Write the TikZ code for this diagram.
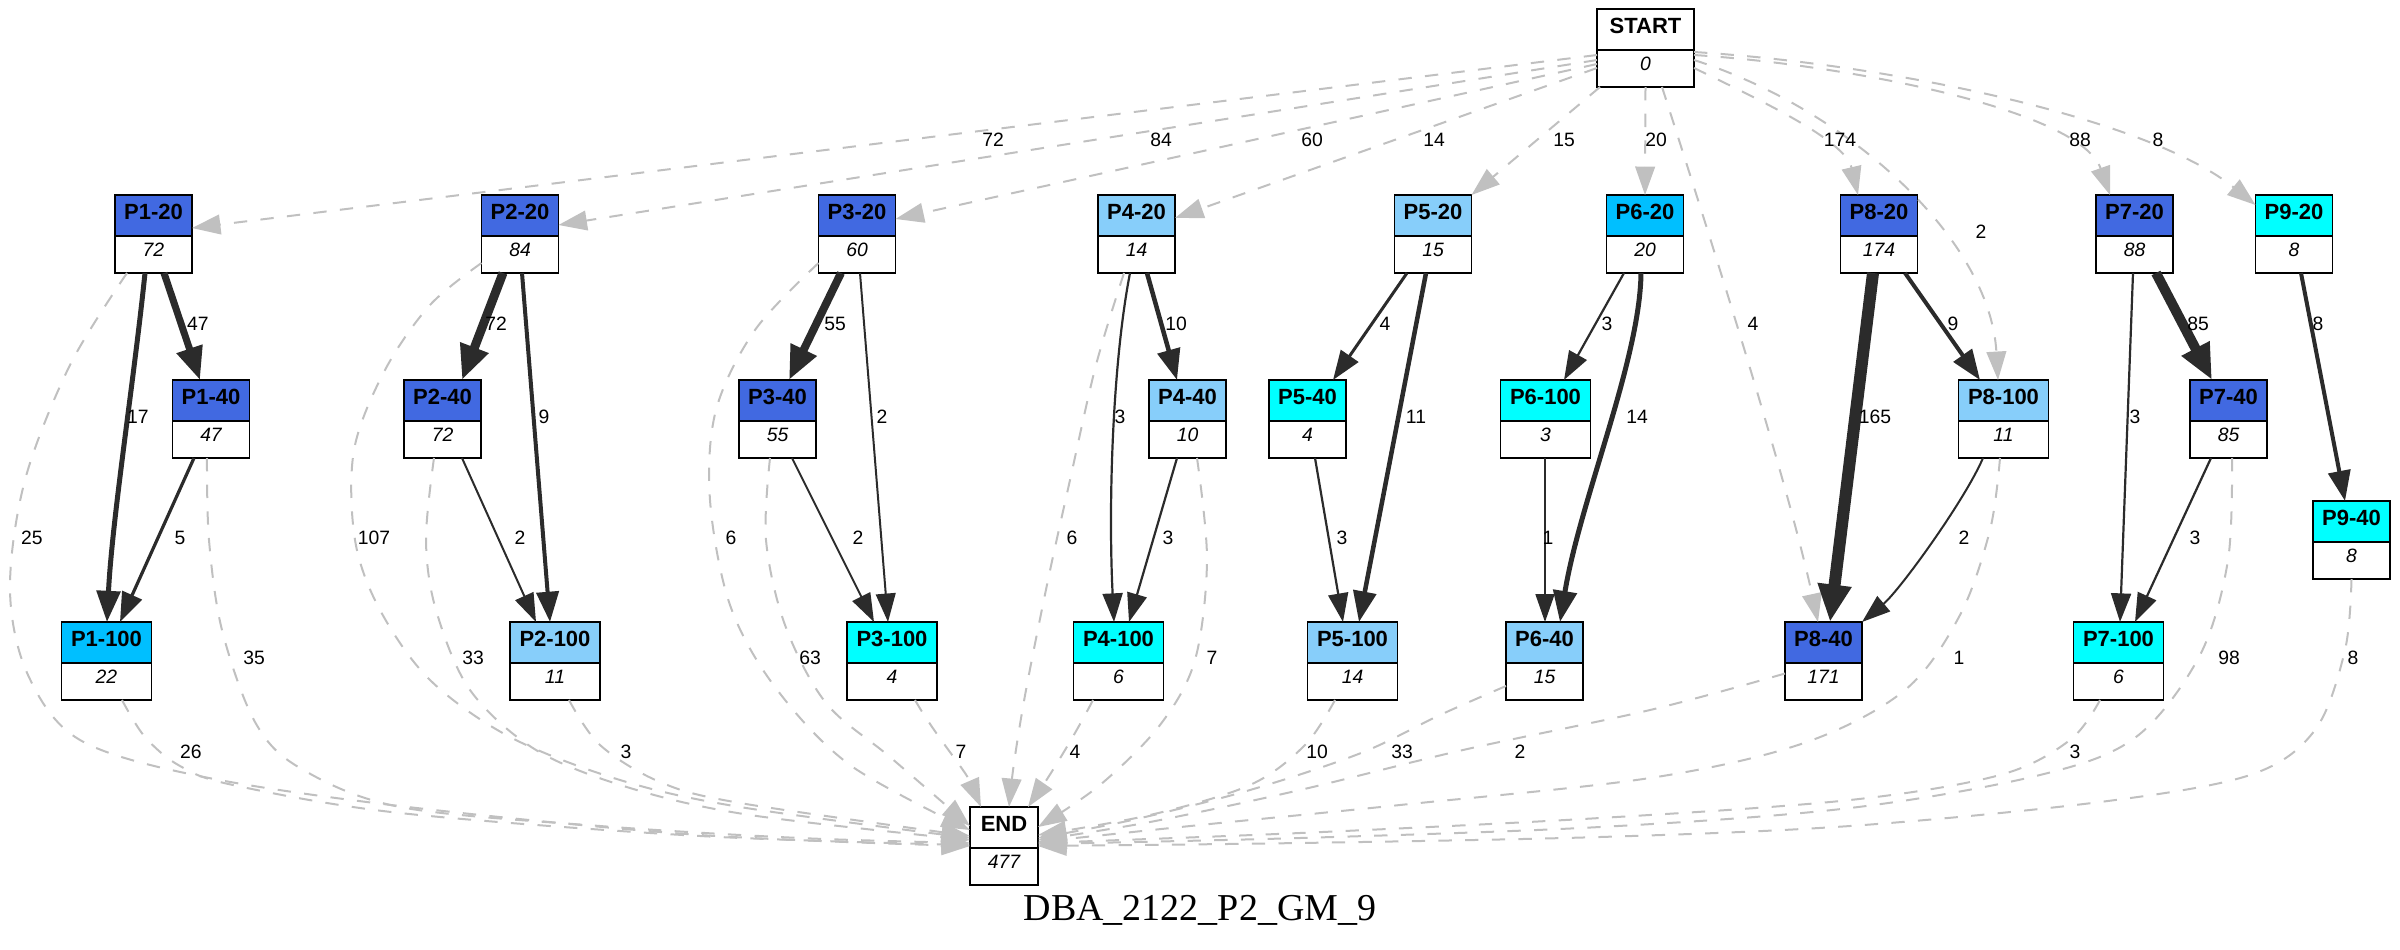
\documentclass[tikz,border=0pt]{standalone}
\usepackage{fontspec}
\setmainfont{Liberation Sans}
\newfontfamily\titlefont{Liberation Serif}
\usetikzlibrary{arrows.meta,calc}
\definecolor{rb}{HTML}{4169E1}
\definecolor{lsb}{HTML}{87CEFA}
\definecolor{dsb}{HTML}{00BFFF}
\definecolor{cy}{HTML}{00FFFF}
\definecolor{edgec}{HTML}{2B2B2B}
\definecolor{grayc}{HTML}{C0C0C0}
\tikzset{
  hdr/.style={font=\bfseries\fontsize{16.5}{16.5}\selectfont, inner sep=0pt},
  val/.style={font=\itshape\fontsize{14.5}{14.5}\selectfont, inner sep=0pt},
  gbox/.style={rectangle, inner sep=0pt, outer sep=0pt},
  elab/.style={font=\fontsize{14.5}{14.5}\selectfont, inner sep=0pt},
  sol/.style={draw=edgec, line width=#1, -{Triangle[length=20pt 0.9, width=13pt 1.2]}},
  dsh/.style={draw=grayc, line width=1.5pt, dash pattern=on 10pt off 10pt, -{Triangle[length=20pt 0.9, width=13pt 1.2]}},
}
% name, cx, top, width, fill, header, value
\newcommand\gn[7]{%
  \path[draw=black, fill=#5, line width=1.3pt] ({#2-#4/2},#3) rectangle ({#2+#4/2},{#3+41});
  \path[draw=black, fill=white, line width=1.3pt] ({#2-#4/2},{#3+41}) rectangle ({#2+#4/2},{#3+78});
  \node[hdr] (#1h) at (#2,{#3+16.5}) {#6};
  \node[val] (#1v) at (#2,{#3+55}) {#7};
  \node[gbox, minimum width={#4*0.75pt}, minimum height=58.5pt] (#1) at (#2,{#3+39}) {};
}
\begin{document}
\begin{tikzpicture}[x=0.75pt, y=-0.75pt]
\useasboundingbox (0,0) rectangle (2400,950);

\gn{START}{1645.5}{9}{97}{white}{START}{0}
\gn{p1a}{153.5}{195}{77}{rb}{P1-20}{72}
\gn{p2a}{520}{195}{77}{rb}{P2-20}{84}
\gn{p3a}{857}{195}{77}{rb}{P3-20}{60}
\gn{p4a}{1136.5}{195}{77}{lsb}{P4-20}{14}
\gn{p5a}{1433}{195}{77}{lsb}{P5-20}{15}
\gn{p6a}{1645}{195}{77}{dsb}{P6-20}{20}
\gn{p8a}{1879}{195}{77}{rb}{P8-20}{174}
\gn{p7a}{2134.5}{195}{77}{rb}{P7-20}{88}
\gn{p9a}{2294}{195}{77}{cy}{P9-20}{8}
\gn{p1b}{211}{380}{77}{rb}{P1-40}{47}
\gn{p2b}{442.5}{380}{77}{rb}{P2-40}{72}
\gn{p3b}{777.5}{380}{77}{rb}{P3-40}{55}
\gn{p4b}{1187.5}{380}{77}{lsb}{P4-40}{10}
\gn{p5b}{1307.5}{380}{77}{cy}{P5-40}{4}
\gn{p6c}{1545.5}{380}{90}{cy}{P6-100}{3}
\gn{p8c}{2003.5}{380}{90}{lsb}{P8-100}{11}
\gn{p7b}{2228.5}{380}{77}{rb}{P7-40}{85}
\gn{p9b}{2351.5}{501}{77}{cy}{P9-40}{8}
\gn{p1c}{106.5}{622}{90}{dsb}{P1-100}{22}
\gn{p2c}{555}{622}{90}{lsb}{P2-100}{11}
\gn{p3c}{892}{622}{90}{cy}{P3-100}{4}
\gn{p4c}{1118.5}{622}{90}{cy}{P4-100}{6}
\gn{p5c}{1352.5}{622}{90}{lsb}{P5-100}{14}
\gn{p6b}{1544.5}{622}{77}{lsb}{P6-40}{15}
\gn{p8b}{1823.5}{622}{77}{rb}{P8-40}{171}
\gn{p7c}{2118.5}{622}{90}{cy}{P7-100}{6}
\gn{END}{1004}{807}{68}{white}{END}{477}

% START edges
\draw[dsh] ($(START.west)+(0,7)$) -- ($(p1a.east)+(0,-6)$);
\draw[dsh] ($(START.west)+(0,12)$) -- ($(p2a.east)+(0,-9)$);
\draw[dsh] ($(START.west)+(0,16)$) -- ($(p3a.east)+(0,-15)$);
\draw[dsh] ($(START.west)+(0,20)$) -- ($(p4a.east)+(0,-16)$);
\draw[dsh] ($(START.south west)+(3,0)$) -- (p5a.north east);
\draw[dsh] (START.south) -- (p6a.north);
\draw[dsh] ($(START.south)+(16.5,0)$) .. controls (1695,190) and (1785,470) .. ($(p8b.north)+(-5.5,0)$);
\draw[dsh] ($(START.east)+(0,20)$) .. controls (1760,100) and (1845,140) .. ($(p8a.north)+(-21,0)$);
\draw[dsh] ($(START.east)+(0,12)$) .. controls (1850,110) and (1990,240) .. ($(p8c.north)+(-5.5,0)$);
\draw[dsh] ($(START.east)+(0,7)$) .. controls (1850,65) and (2080,110) .. ($(p7a.north)+(-24.5,0)$);
\draw[dsh] ($(START.east)+(0,4)$) .. controls (1900,65) and (2150,120) .. ($(p9a.north west)+(0,10)$);

% solid edges
\draw[sol=5.25pt] ($(p1a.south)+(10.5,0)$) -- ($(p1b.north)+(-11,0)$);
\draw[sol=3.75pt] ($(p1a.south)+(-8.5,0)$) .. controls (134,380) and (112,520) .. ($(p1c.north)+(0.5,0)$);
\draw[sol=2.4pt] ($(p1b.south)+(-17,0)$) -- ($(p1c.north)+(13.5,0)$);
\draw[sol=6.75pt] ($(p2a.south)+(-17,0)$) -- ($(p2b.north)+(19.5,0)$);
\draw[sol=3pt] ($(p2a.south)+(2,0)$) -- ($(p2c.north)+(-5,0)$);
\draw[sol=1.5pt] ($(p2b.south)+(19.5,0)$) -- ($(p2c.north)+(-19,0)$);
\draw[sol=6pt] ($(p3a.south)+(-16,0)$) -- ($(p3b.north)+(11.5,0)$);
\draw[sol=1.5pt] ($(p3a.south)+(3,0)$) -- ($(p3c.north)+(-4,0)$);
\draw[sol=1.5pt] ($(p3b.south)+(14.5,0)$) -- ($(p3c.north)+(-18,0)$);
\draw[sol=3.4pt] ($(p4a.south)+(10.5,0)$) -- ($(p4b.north)+(-10.5,0)$);
\draw[sol=1.65pt] ($(p4a.south)+(-6.5,0)$) .. controls (1113,360) and (1108,500) .. ($(p4c.north)+(-4.5,0)$);
\draw[sol=1.65pt] ($(p4b.south)+(-10.5,0)$) -- ($(p4c.north)+(10.5,0)$);
\draw[sol=2.25pt] ($(p5a.south)+(-26,0)$) -- ($(p5b.north)+(25.5,0)$);
\draw[sol=3.4pt] ($(p5a.south)+(-7,0)$) -- ($(p5c.north)+(6.5,0)$);
\draw[sol=1.65pt] ($(p5b.south)+(7.5,0)$) -- ($(p5c.north)+(-9.5,0)$);
\draw[sol=1.65pt] ($(p6a.south)+(-21,0)$) -- ($(p6c.north)+(18.5,0)$);
\draw[sol=3.75pt] ($(p6a.south)+(-4,0)$) .. controls (1640,360) and (1580,500) .. ($(p6b.north)+(15.5,0)$);
\draw[sol=1.1pt] ($(p6c.south)+(-0.5,0)$) -- ($(p6b.north)+(0.5,0)$);
\draw[sol=9pt] ($(p8a.south)+(-6,0)$) -- ($(p8b.north)+(6.5,0)$);
\draw[sol=3pt] ($(p8a.south)+(26,0)$) -- ($(p8c.north)+(-23.5,0)$);
\draw[sol=1.5pt] ($(p8c.south)+(-20.5,0)$) .. controls (1965,500) and (1900,590) .. (p8b.north east);
\draw[sol=7.5pt] ($(p7a.south)+(21.5,0)$) -- ($(p7b.north)+(-16.5,0)$);
\draw[sol=1.65pt] ($(p7a.south)+(-1.5,0)$) -- ($(p7c.north)+(1.5,0)$);
\draw[sol=1.65pt] ($(p7b.south)+(-17.5,0)$) -- ($(p7c.north)+(16.5,0)$);
\draw[sol=3pt] ($(p9a.south)+(7,0)$) -- ($(p9b.north)+(-6.5,0)$);

% dashed edges to END
\draw[dsh] plot[smooth, tension=0.55] coordinates {($(p1a.south)+(-26.5,0)$) (70,365) (25,480) (10,590) (28,675) (80,740) (204,777) (408,807) (700,835) (END.west)};
\draw[dsh] plot[smooth, tension=0.55] coordinates {($(p1b.south)+(-4,0)$) (209,540) (222,630) (255,722) (300,768) (400,807) (600,826) (800,838) ($(END.west)+(0,-3)$)};
\draw[dsh] plot[smooth, tension=0.55] coordinates {($(p1c.south)+(15.5,0)$) (145,737) (180,766) (233,785) (400,813) (700,836) ($(END.west)+(0,-1)$)};
\draw[dsh] plot[smooth, tension=0.55] coordinates {($(p2a.south west)+(0,-10)$) (430,305) (385,370) (354,450) (355,540) (380,610) (430,680) (510,737) (620,780) (740,807) ($(END.west)+(0,-8)$)};
\draw[dsh] plot[smooth, tension=0.55] coordinates {($(p2b.south)+(-8.5,0)$) (426,540) (436,610) (470,690) (536,750) (630,788) (750,815) ($(END.west)+(0,-6)$)};
\draw[dsh] plot[smooth, tension=0.55] coordinates {($(p2c.south)+(14,0)$) (600,745) (660,782) (740,803) ($(END.west)+(0,-10)$)};
\draw[dsh] plot[smooth, tension=0.55] coordinates {($(p3a.south west)+(0,-10)$) (755,330) (716,410) (710,500) (730,605) (775,687) (850,765) ($(END.west)+(0,-16)$)};
\draw[dsh] plot[smooth, tension=0.55] coordinates {($(p3b.south)+(-7.5,0)$) (766,540) (785,625) (826,703) (890,757) ($(END.west)+(0,-20)$)};
\draw[dsh] ($(p3c.south)+(23,0)$) .. controls (935,735) and (965,770) .. ($(END.north)+(-23,0)$);
\draw[dsh] plot[smooth, tension=0.55] coordinates {($(p4a.south)+(-12.5,0)$) (1096,365) (1070,480) (1048,580) (1026,690) (1014,763) ($(END.north)+(5,0)$)};
\draw[dsh] plot[smooth, tension=0.55] coordinates {($(p4b.south)+(9.5,0)$) (1207,560) (1195,660) (1160,725) (1100,785) ($(END.east)+(0,-19)$)};
\draw[dsh] ($(p4c.south)+(-25.5,0)$) .. controls (1075,735) and (1050,775) .. ($(END.north)+(24,0)$);
\draw[dsh] plot[smooth, tension=0.55] coordinates {($(p5c.south)+(-17.5,0)$) (1305,745) (1250,785) (1150,815) ($(END.east)+(0,-11)$)};
\draw[dsh] plot[smooth, tension=0.55] coordinates {($(p6b.south west)+(0,-14)$) (1440,715) (1361,753) (1250,790) (1132,820) ($(END.east)+(0,-8)$)};
\draw[dsh] plot[smooth, tension=0.55] coordinates {($(p8b.west)+(0,12.5)$) (1650,710) (1463,750) (1300,790) (1150,822) ($(END.east)+(0,-6)$)};
\draw[dsh] plot[smooth, tension=0.55] coordinates {($(p8c.south)+(-3.5,0)$) (1990,530) (1960,615) (1905,690) (1804,743) (1650,778) (1400,805) (1200,825) ($(END.east)+(0,-4)$)};
\draw[dsh] plot[smooth, tension=0.55] coordinates {($(p7b.south)+(3.5,0)$) (2228,560) (2200,655) (2136,737) (2040,775) (1850,808) (1600,827) (1300,838) ($(END.east)+(0,-2)$)};
\draw[dsh] plot[smooth, tension=0.55] coordinates {($(p7c.south)+(-18.5,0)$) (2070,740) (2000,775) (1850,800) (1600,818) (1300,833) ($(END.east)+(0,-3)$)};
\draw[dsh] plot[smooth, tension=0.55] coordinates {(p9b.south) (2345,650) (2315,730) (2250,775) (2100,802) (1850,826) (1600,837) (1300,843) (END.east)};

% edge labels
\node[elab] (l01) at (993,140) {72};
\node[elab] (l02) at (1161,140) {84};
\node[elab] (l03) at (1312,140) {60};
\node[elab] (l04) at (1434,140) {14};
\node[elab] (l05) at (1564,140) {15};
\node[elab] (l06) at (1656,140) {20};
\node[elab] (l07) at (1840,140) {174};
\node[elab] (l08) at (1981,232) {2};
\node[elab] (l09) at (1753,324) {4};
\node[elab] (l10) at (2080,140) {88};
\node[elab] (l11) at (2158,140) {8};
\node[elab] (l12) at (198,324) {47};
\node[elab] (l13) at (138,417) {17};
\node[elab] (l14) at (496,324) {72};
\node[elab] (l15) at (544,417) {9};
\node[elab] (l16) at (835,324) {55};
\node[elab] (l17) at (882,417) {2};
\node[elab] (l18) at (1176,324) {10};
\node[elab] (l19) at (1120,417) {3};
\node[elab] (l20) at (1385,324) {4};
\node[elab] (l21) at (1416,417) {11};
\node[elab] (l22) at (1607,324) {3};
\node[elab] (l23) at (1637,417) {14};
\node[elab] (l24) at (1953,324) {9};
\node[elab] (l25) at (1875,417) {165};
\node[elab] (l26) at (2198,324) {85};
\node[elab] (l27) at (2135,417) {3};
\node[elab] (l28) at (2318,324) {8};
\node[elab] (l29) at (32,538) {25};
\node[elab] (l30) at (180,538) {5};
\node[elab] (l31) at (374,538) {107};
\node[elab] (l32) at (520,538) {2};
\node[elab] (l33) at (731,538) {6};
\node[elab] (l34) at (858,538) {2};
\node[elab] (l35) at (1072,538) {6};
\node[elab] (l36) at (1168,538) {3};
\node[elab] (l37) at (1342,538) {3};
\node[elab] (l38) at (1548,538) {1};
\node[elab] (l39) at (1964,538) {2};
\node[elab] (l40) at (2195,538) {3};
\node[elab] (l41) at (254,658) {35};
\node[elab] (l42) at (473,658) {33};
\node[elab] (l43) at (810,658) {63};
\node[elab] (l44) at (1212,658) {7};
\node[elab] (l45) at (1959,658) {1};
\node[elab] (l46) at (2229,658) {98};
\node[elab] (l47) at (2353,658) {8};
\node[elab] (l48) at (191,752) {26};
\node[elab] (l49) at (626,752) {3};
\node[elab] (l50) at (961,752) {7};
\node[elab] (l51) at (1075,752) {4};
\node[elab] (l52) at (1317,752) {10};
\node[elab] (l53) at (1402,752) {33};
\node[elab] (l54) at (1520,752) {2};
\node[elab] (l55) at (2075,752) {3};

\node[font=\titlefont\fontsize{28.5}{28.5}\selectfont, anchor=base, inner sep=0pt] (title) at (1200,920) {DBA\_2122\_P2\_GM\_9};
\end{tikzpicture}
\end{document}
